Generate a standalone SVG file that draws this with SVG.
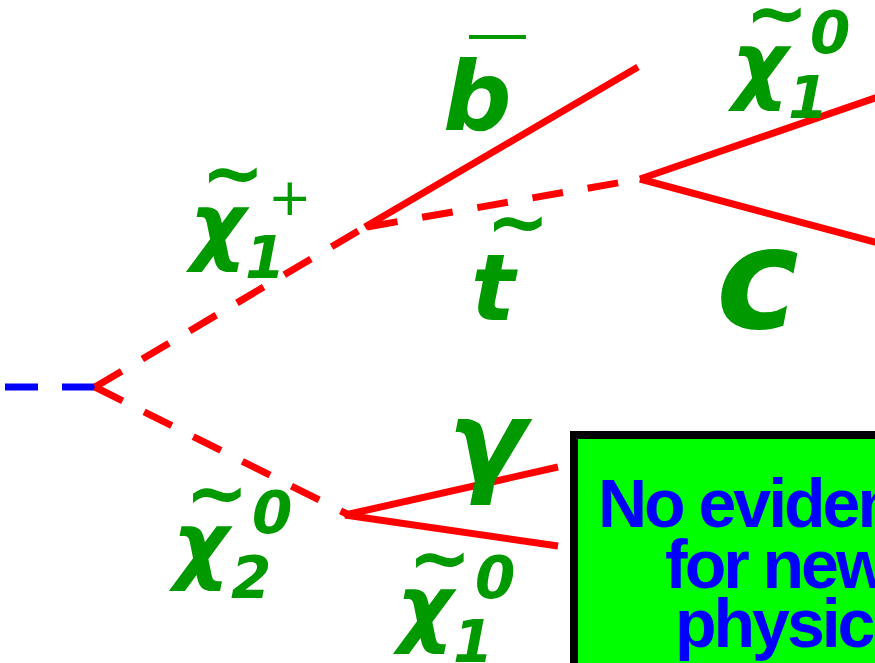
<svg xmlns="http://www.w3.org/2000/svg" width="875" height="663" viewBox="0 0 875 663">
<style>
.lbl{font-family:"DejaVu Sans","Liberation Sans",sans-serif;font-weight:bold;font-style:oblique;fill:#009900}
.til{font-family:"DejaVu Sans",sans-serif;font-weight:bold;font-size:76px;fill:#009900}
.sub{font-family:"DejaVu Sans",sans-serif;font-weight:bold;font-style:oblique;font-size:58px;fill:#009900}
.chi{font-size:86px}
.red{stroke:#ff0000;stroke-width:7;fill:none}
.dash{stroke-dasharray:31 24}
.box{font-family:"Liberation Sans","DejaVu Sans",sans-serif;font-weight:bold;font-size:68px;letter-spacing:-3px;fill:#0000ff}
</style>
<rect width="875" height="663" fill="#ffffff"/>
<g id="connectors">
  <line x1="5" y1="387" x2="95" y2="387" stroke="#0000ff" stroke-width="7" stroke-dasharray="33 24"/>
  <line class="red dash" x1="95" y1="387" x2="365" y2="227"/>
  <line class="red dash" x1="95" y1="387" x2="347" y2="514"/>
  <line class="red" x1="365" y1="227" x2="638" y2="67"/>
  <line class="red" x1="367" y1="227" x2="640" y2="179" stroke-dasharray="31 25"/>
  <line class="red" x1="640" y1="179" x2="878" y2="97"/>
  <line class="red" x1="640" y1="179" x2="878" y2="243"/>
  <line class="red" x1="345" y1="515" x2="558" y2="467"/>
  <line class="red" x1="345" y1="515" x2="558" y2="546"/>
</g>
<g id="chargino">
  <text class="til" x="201" y="199">~</text>
  <text class="lbl chi" x="190" y="254">χ</text>
  <text class="sub" x="245" y="278">1</text>
  <text x="268" y="215" font-family="DejaVu Sans,sans-serif" font-size="52" fill="#009900">+</text>
</g>
<g id="bbar">
  <rect x="469" y="35" width="57" height="4" fill="#009900"/>
  <text class="lbl" x="443" y="130" font-size="96">b</text>
</g>
<g id="stop">
  <text class="til" x="486" y="248">~</text>
  <text class="lbl" x="471" y="320" font-size="92">t</text>
</g>
<g id="neutralino1-top">
  <text class="til" x="745" y="39">~</text>
  <text class="lbl chi" x="732" y="93">χ</text>
  <text class="sub" x="788" y="118">1</text>
  <text class="sub" x="810" y="53" font-size="62">0</text>
</g>
<g id="charm">
  <text class="lbl" x="716" y="328" font-size="140">c</text>
</g>
<g id="neutralino2">
  <text class="til" x="185" y="519">~</text>
  <text class="lbl chi" x="173" y="573">χ</text>
  <text class="sub" x="231" y="598">2</text>
  <text class="sub" x="252" y="533" font-size="62">0</text>
</g>
<g id="photon">
  <text class="lbl" x="448" y="481" font-size="114">γ</text>
</g>
<g id="neutralino1-bottom">
  <text class="til" x="408" y="584">~</text>
  <text class="lbl chi" x="397" y="636">χ</text>
  <text class="sub" x="453" y="662">1</text>
  <text class="sub" x="475" y="598" font-size="62">0</text>
</g>
<g id="result-box">
  <rect x="574" y="435" width="400" height="300" fill="#00ff00" stroke="#000000" stroke-width="8"/>
  <text class="box" x="598" y="527">No evidence</text>
  <text class="box" x="665" y="588">for new</text>
  <text class="box" x="675" y="647">physics</text>
</g>
</svg>
